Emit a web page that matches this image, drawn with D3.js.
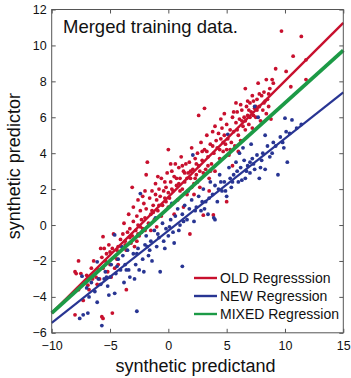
<!DOCTYPE html>
<html><head><meta charset="utf-8">
<script src="https://cdn.jsdelivr.net/npm/d3@7"></script>
<style>body{margin:0;background:#fff}svg{display:block}</style>
</head><body>
<script>
const xTicks = [-10,-5,0,5,10,15];
const yTicks = [-6,-4,-2,0,2,4,6,8,10,12];
const titleText = "Merged training data.";
const xLabel = "synthetic predictand";
const yLabel = "synthetic predictor";
const legendLabels = ["OLD Regresssion","NEW Regression","MIXED Regression"];
const lineOld = [[-10,-4.9],[15,11.25]];
const lineNew = [[-10,-5.45],[15,7.38]];
const lineMixed = [[-10,-4.9],[15,9.72]];
const redPoints = [
[-8.0,-2.6],[-7.7,-2.0],[-7.9,-2.7],[-7.5,-2.7],[-7.7,-3.6],[-8.0,-5.0],[-7.3,-4.2],[-6.9,-3.35],[-6.5,-3.0],[-6.8,-3.6],
[-6.2,-2.9],[-6.0,-2.5],[-5.8,-1.3],[-5.5,-1.3],[-5.6,-0.65],[-5.3,-1.6],[-5.0,-1.5],[-4.8,-1.3],[-4.6,-1.8],[-4.4,-1.4],
[-4.3,-1.2],[-5.7,-5.1],[-5.6,-5.2],[-4.8,-4.9],[-5.9,-3.0],[-5.2,-2.6],[-4.9,-2.9],[-4.6,-2.4],[-5.4,-2.0],[-6.4,-2.0],
[-7.0,-2.8],[-4.3,-2.2],[-4.7,-0.5],[-4.1,-0.8],[-3.6,-3.6],[-5.1,-1.1],[-6.6,-2.4],[-5.7,-1.8],
[-3.9,-0.5],[-3.7,-0.9],[-3.5,-0.4],[-3.3,-0.2],[-3.2,-1.0],[-3.0,0.2],[-3.1,2.1],[-3.0,1.0],[-2.8,-0.3],[-2.7,0.5],
[-2.6,0.0],[-2.5,-0.6],[-2.4,0.8],[-2.3,0.3],[-2.2,-0.2],[-2.1,1.2],[-2.0,0.4],[-1.9,2.8],[-1.8,3.5],[-1.9,0.9],
[-1.7,0.1],[-1.6,1.5],[-1.5,0.6],[-1.4,1.9],[-1.3,1.1],[-1.2,0.3],[-1.1,2.3],[-1.0,1.4],[-0.9,0.8],[-0.8,2.0],
[-0.7,1.6],[-0.6,2.6],[-0.5,1.1],[-0.4,1.9],[-0.3,2.4],[-0.2,1.3],[-0.1,2.9],[0.0,4.2],[0.0,1.8],[-3.4,0.6],
[-3.8,0.1],[-2.9,-1.2],[-2.2,1.6],[-1.5,-0.3],[-0.9,2.7],[-2.6,1.4],[-3.6,-1.4],[-1.0,-0.1],[-3.3,-0.7],[-2.4,-0.1],
[-1.3,0.7],[-0.6,0.5],[-2.0,1.9],[-3.9,-1.3],[-0.3,1.5],
[0.1,1.5],[0.2,2.4],[0.3,3.0],[0.4,1.9],[0.5,2.7],[0.6,3.4],[0.7,2.2],[0.8,1.4],[0.9,3.2],[1.0,2.6],
[1.1,3.8],[1.2,2.0],[1.3,3.0],[1.4,2.4],[1.5,3.4],[1.6,1.7],[1.7,2.9],[1.8,3.5],[1.85,-0.5],[1.9,2.6],
[2.0,4.3],[2.1,3.1],[2.2,2.3],[2.3,3.7],[2.4,2.8],[2.5,4.0],[2.6,6.1],[2.6,3.3],[2.7,2.1],[2.8,4.6],
[2.9,3.6],[3.0,0.55],[3.0,2.9],[3.1,6.5],[3.1,4.2],[3.2,3.1],[3.3,5.0],[3.4,3.8],[3.5,2.6],[3.6,4.5],
[3.7,3.4],[3.8,5.2],[3.9,4.0],[4.0,3.0],[4.0,5.5],[0.5,0.6],[1.3,1.0],[2.2,1.7],[3.5,1.9],[3.86,0.56],
[0.3,2.0],[0.9,2.3],[1.6,2.6],[2.3,2.6],[2.9,4.1],[3.4,3.3],[0.2,3.4],[1.2,3.3],[2.7,3.0],
[4.2,4.3],[4.3,5.1],[4.4,3.7],[4.5,4.8],[4.6,5.4],[4.7,4.1],[4.8,5.0],[4.9,4.5],[5.0,1.3],[5.0,5.6],
[5.1,4.8],[5.2,3.9],[5.3,5.3],[5.4,4.6],[5.5,6.0],[5.6,5.2],[5.7,4.4],[5.8,5.7],[5.9,6.3],[6.0,5.0],
[6.1,5.9],[6.2,4.7],[6.3,6.4],[6.4,5.5],[6.5,6.0],[6.6,7.6],[6.6,5.3],[6.7,6.6],[6.8,6.1],[6.9,5.6],
[7.0,6.8],[7.1,6.3],[7.2,5.4],[7.3,6.9],[7.4,6.5],[7.5,6.0],[7.6,7.0],[7.7,7.9],[7.8,6.6],[7.9,5.8],
[8.0,7.2],[5.5,3.3],[6.0,4.1],[4.8,6.2],[5.8,6.8],[4.1,4.7],[5.3,4.2],[6.3,5.8],[7.0,6.0],[7.6,6.4],
[8.1,6.4],[8.2,7.4],[8.3,6.9],[8.4,6.2],[8.4,8.1],[8.5,7.0],[8.7,7.6],[8.9,8.1],[9.2,8.7],[9.7,10.8],
[10.1,8.55],[10.5,7.7],[10.7,9.4],[11.4,10.5],[11.8,9.2],[11.8,8.1],[8.8,5.9],[8.6,6.6],
[4.5,5.9],[5.0,4.2],[5.6,6.3],[6.2,6.7],[6.8,6.9],[7.3,6.1],[7.8,7.3],[8.2,6.8],[6.9,6.4],[7.5,6.6],
[5.9,5.3],[4.7,4.6],[3.8,4.4],[3.3,4.1],[2.4,3.4],[1.9,3.0],[1.4,2.9],[0.7,2.6],[-0.2,2.1],[-0.8,1.1],
[-1.4,0.8],[-2.0,-0.3],[-2.6,-0.5],[-3.1,-0.6],[-3.7,-1.1],[-4.4,-1.9],[-5.0,-2.2],[-5.6,-2.4],[-6.1,-3.3],[2.0,2.1],
[3.6,3.0],[4.4,4.2],[6.6,5.8],[7.2,7.2],[8.6,7.3],[9.0,7.9],[1.0,1.9],[0.0,1.0],[-1.1,1.7],[-2.7,-0.9]
];
const bluePoints = [
[-7.6,-5.2],[-7.3,-5.0],[-6.9,-4.9],[-7.4,-2.85],[-7.0,-3.5],[-6.6,-3.2],[-6.1,-2.05],[-6.1,-4.3],[-5.7,-5.6],[-5.8,-3.3],
[-5.5,-3.0],[-5.4,-2.6],[-5.2,-3.4],[-5.0,-2.9],[-4.9,-2.2],[-4.6,-3.8],[-4.6,-0.55],[-4.5,-2.7],[-4.3,-1.9],[-4.1,-2.5],
[-3.9,-1.7],[-3.7,-2.2],[-3.5,-1.4],[-3.3,-2.9],[-3.0,-1.6],[-2.9,-3.0],[-2.8,-2.2],[-2.7,-4.8],[-2.6,-1.3],[-2.4,1.75],
[-2.3,-0.4],[-2.2,-1.9],[-2.0,-1.1],[-1.9,-0.6],[-1.7,-1.7],[-1.5,-0.9],[-1.4,-2.0],[-1.2,-0.3],[-1.0,-1.2],[-0.8,-0.7],
[-0.7,-2.6],[-0.5,0.1],[-0.4,-0.9],[-0.2,-0.2],[0.0,-0.6],[0.2,0.3],[0.4,-0.4],[0.6,0.5],[0.8,0.9],[1.0,0.0],
[1.2,-2.3],[1.2,0.6],[1.4,1.1],[1.6,0.3],[1.8,0.9],[2.0,1.4],[2.1,3.9],[2.2,0.2],[2.4,1.0],[2.6,1.6],
[2.8,0.8],[3.0,2.0],[3.2,1.3],[3.4,0.6],[3.6,2.4],[3.8,1.7],[4.0,0.3],[4.0,2.2],[4.2,1.3],[4.4,2.8],
[4.6,1.9],[4.8,2.4],[5.0,1.6],[5.1,5.05],[5.2,3.2],[5.4,2.1],[5.6,2.8],[5.8,3.5],[6.0,2.4],[6.2,3.2],
[6.4,4.3],[6.6,2.6],[6.8,3.3],[7.0,2.9],[7.2,3.7],[7.4,6.6],[7.4,3.1],[7.6,3.9],[7.7,6.0],[7.8,2.6],
[8.0,3.6],[8.3,3.1],[8.5,4.4],[8.7,3.8],[9.0,4.6],[9.4,2.8],[9.6,4.9],[10.0,5.95],[10.2,3.5],[10.4,5.1],
[10.6,5.85],[11.0,5.4],[11.4,5.6],[-3.4,-2.5],[-1.1,0.4],[0.3,1.2],[8.3,5.0],[10.1,5.2],[3.9,0.4],[-6.3,-3.7],
[-5.1,-3.9],[-3.8,-3.2],[-2.5,-2.5],[-1.6,-1.4],[-0.3,-1.3],[0.9,-0.3],[1.7,1.9],[2.9,1.3],[4.3,2.0],[5.3,2.6],
[6.5,3.6],[7.1,4.5],[7.9,3.2],[8.9,4.0],[9.8,4.6],[-4.0,-1.2],[-2.1,-2.6],[0.5,-1.0],[2.5,2.4],[6.1,4.0],
[5.9,3.0],[6.7,3.0],[7.3,3.4],[8.1,4.0],[6.3,2.5],[5.5,2.4],[4.5,2.4],[3.5,1.5],[2.3,0.8],[1.3,0.2],
[0.1,-0.1],[-0.9,-0.5],[-1.8,-1.2],[-2.7,-1.6],[-3.6,-2.5],[-4.4,-2.3],[-5.3,-2.9],[-6.0,-3.0],[-6.8,-4.0],[9.2,4.4],
[9.9,4.3],[3.1,0.9],[4.9,1.9],[7.0,3.5]
];

const W = 351, H = 378;
const svg = d3.select("body").append("svg").attr("width", W).attr("height", H)
  .style("font-family", "'Liberation Sans', Arial, sans-serif");
const L = 51.7, R = 343.3, T = 9.5, B = 332.8;
const x = d3.scaleLinear().domain([-10,15]).range([L,R]);
const y = d3.scaleLinear().domain([-6,12]).range([B,T]);

const red = "#c8102e", blue = "#283593", green = "#1c9a46", axisCol = "#555";

svg.append("g").selectAll("circle").data(redPoints).join("circle")
  .attr("cx", d => x(d[0])).attr("cy", d => y(d[1])).attr("r", 1.9).attr("fill", red);
svg.append("g").selectAll("circle").data(bluePoints).join("circle")
  .attr("cx", d => x(d[0])).attr("cy", d => y(d[1])).attr("r", 1.9).attr("fill", blue);

const line = d3.line().x(d => x(d[0])).y(d => y(d[1]));
svg.append("path").attr("d", line(lineOld)).attr("stroke", red).attr("stroke-width", 2.4).attr("fill", "none");
svg.append("path").attr("d", line(lineNew)).attr("stroke", blue).attr("stroke-width", 2.2).attr("fill", "none");
svg.append("path").attr("d", line(lineMixed)).attr("stroke", green).attr("stroke-width", 3.8).attr("fill", "none");

const ax = (g) => g.selectAll(".domain").remove();
svg.append("g").attr("transform", `translate(0,${B})`)
  .call(d3.axisBottom(x).tickValues(xTicks).tickSize(-4).tickPadding(8.5).tickFormat(d3.format("d")))
  .call(ax).call(g => g.selectAll("text").attr("font-size", 12.5).attr("fill", "#111"))
  .call(g => g.selectAll("line").attr("stroke", axisCol));
svg.append("g").attr("transform", `translate(0,${T})`)
  .call(d3.axisTop(x).tickValues(xTicks).tickSize(-4).tickFormat(""))
  .call(ax).call(g => g.selectAll("line").attr("stroke", axisCol));
svg.append("g").attr("transform", `translate(${L},0)`)
  .call(d3.axisLeft(y).tickValues(yTicks).tickSize(-4).tickPadding(5).tickFormat(d3.format("d")))
  .call(ax).call(g => g.selectAll("text").attr("font-size", 12.5).attr("fill", "#111"))
  .call(g => g.selectAll("line").attr("stroke", axisCol));
svg.append("g").attr("transform", `translate(${R},0)`)
  .call(d3.axisRight(y).tickValues(yTicks).tickSize(-4).tickFormat(""))
  .call(ax).call(g => g.selectAll("line").attr("stroke", axisCol));
svg.append("rect").attr("x", L).attr("y", T).attr("width", R-L).attr("height", B-T)
  .attr("fill", "none").attr("stroke", axisCol).attr("stroke-width", 1);

svg.append("text").attr("x", 63).attr("y", 33).attr("font-size", 18.5).attr("fill", "#111").text(titleText);

svg.append("text").attr("x", (L+R)/2 - 2).attr("y", 372).attr("text-anchor", "middle")
  .attr("font-size", 18).attr("fill", "#111").text(xLabel);
svg.append("text").attr("transform", `translate(20,${(T+B)/2 - 5}) rotate(-90)`).attr("text-anchor", "middle")
  .attr("font-size", 18).attr("fill", "#111").text(yLabel);

const legCols = [red, blue, green];
const lg = svg.append("g");
legendLabels.forEach((t, i) => {
  const yy = 278 + i * 18;
  lg.append("line").attr("x1", 194).attr("x2", 217).attr("y1", yy).attr("y2", yy)
    .attr("stroke", legCols[i]).attr("stroke-width", 2.4);
  lg.append("text").attr("x", 220).attr("y", yy + 5).attr("font-size", 14).attr("fill", "#111").text(t);
});
</script>
</body></html>
